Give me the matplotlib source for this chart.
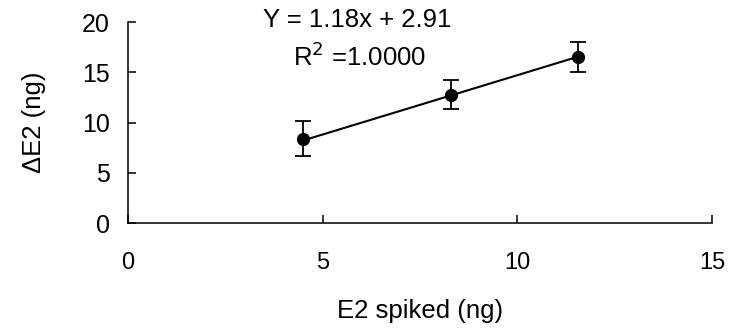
import matplotlib.pyplot as plt

plt.rcParams['font.family'] = ['Liberation Sans', 'DejaVu Sans']

# data
spiked = [4.5, 8.3, 11.55]
delta = [8.4, 12.75, 16.55]
err = [1.75, 1.45, 1.5]
slope, intercept = 1.18, 2.91

fig = plt.figure(figsize=(7.3, 3.29), dpi=100)
ax = fig.add_axes([0.1753, 0.322, 0.8, 0.611])

xs = [min(spiked), max(spiked)]
ax.plot(xs, [slope * x + intercept for x in xs], color='black', lw=1.5)
ax.errorbar(spiked, delta, yerr=err, fmt='o', color='black', ms=8.5,
            capsize=5.5, elinewidth=1.3, capthick=1.3)

ax.set_xlim(0, 15)
ax.set_ylim(0, 20)
ax.set_xticks([0, 5, 10, 15])
ax.set_yticks([0, 5, 10, 15, 20])
ax.spines['top'].set_visible(False)
ax.spines['right'].set_visible(False)
for s in ('left', 'bottom'):
    ax.spines[s].set_linewidth(1.1)
ax.tick_params(direction='in', length=6, width=1.1)
ax.tick_params(axis='x', pad=21, labelsize=17)
ax.tick_params(axis='y', pad=13, labelsize=18)

ax.set_xlabel('E2 spiked (ng)', fontsize=18.5, labelpad=18)
ax.set_ylabel('ΔE2 (ng)', fontsize=18.5, labelpad=26)

ax.text(0.392, 1.01, 'Y = 1.18x + 2.91', transform=ax.transAxes,
        ha='center', va='center', fontsize=18.5)
ax.text(0.396, 0.826, 'R$^2$ =1.0000', transform=ax.transAxes,
        ha='center', va='center', fontsize=18.5)

fig.savefig('out.png', dpi=100)
